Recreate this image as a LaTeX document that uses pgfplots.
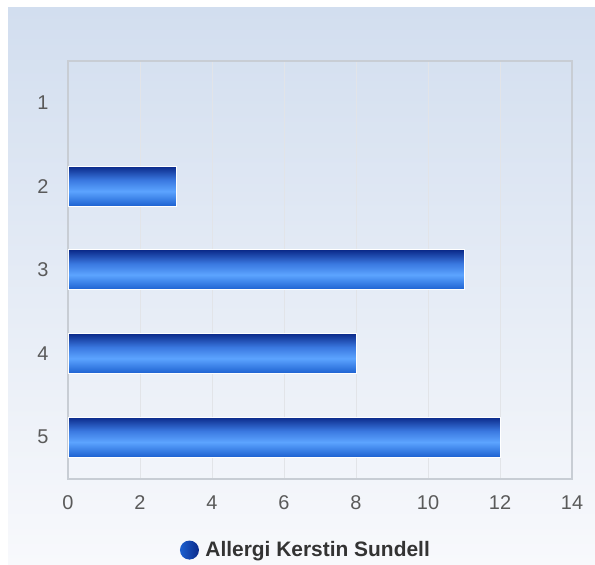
\documentclass[border=0pt]{standalone}
\usepackage{fontspec}
\setmainfont{Liberation Sans}
\usepackage{pgfplots}
\pgfplotsset{compat=1.18}
\definecolor{bgtop}{HTML}{D2DEEF}
\definecolor{bgbot}{HTML}{F8F9FC}
\definecolor{axisgray}{HTML}{C8CDD4}
\definecolor{gridgray}{HTML}{E2E4E8}
\definecolor{labgray}{HTML}{5A5A5A}
\definecolor{legtext}{HTML}{333333}
\definecolor{bartop}{HTML}{0B2A8A}
\definecolor{barmid}{HTML}{3A78E0}
\definecolor{barlight}{HTML}{5CA4FF}
\definecolor{barbot}{HTML}{1C60D0}
\pgfdeclareverticalshading{barshade}{100bp}{color(0bp)=(barbot); color(25bp)=(barbot); color(44bp)=(barlight); color(58bp)=(barmid); color(75bp)=(bartop); color(100bp)=(bartop)}
\pgfplotsset{barstyle/.style={shade, shading=barshade, draw=white, line width=1bp}}
\begin{document}
\begin{tikzpicture}
\fill[white] (0,0) rectangle (595bp,565bp);
\shade[top color=bgtop, bottom color=bgbot] (8bp,0) rectangle (595bp,557bp);
\begin{axis}[
    at={(68bp,86bp)}, anchor=south west,
    scale only axis, width=504bp, height=418bp,
    xbar, bar shift=0pt, bar width=40bp,
    xmin=0, xmax=14, xtick={0,2,...,14},
    % categories 1..5 from top to bottom: category k sits at y = 6-k
    ymin=0.5, ymax=5.5, ytick={1,...,5}, yticklabels={5,4,3,2,1},
    major tick length=0,
    axis line style={draw=axisgray, line width=1.2bp},
    xmajorgrids, grid style={gridgray, line width=0.8bp},
    tick label style={text=labgray, font=\fontsize{20}{20}\selectfont},
    xticklabel style={yshift=-13bp},
    yticklabel style={xshift=-16bp},
    /pgf/number format/assume math mode=true,
    legend style={draw=none, fill=none, at={(0.472,-0.17)}, anchor=center,
        font=\bfseries\fontsize{21}{21}\selectfont, text=legtext},
    legend image code/.code={%
        \shade[draw=none, left color=barbot, middle color=barlight!60!barbot, right color=bartop] (0,0) circle (9.5bp);
        \path[draw=none] (-9.5bp,0) -- (14bp,0);},
]
% one plot per bar so that each bar gets its own shading
\addplot[barstyle] coordinates {(3,4)};
\addlegendentry{Allergi Kerstin Sundell}
\addplot[barstyle, forget plot] coordinates {(11,3)};
\addplot[barstyle, forget plot] coordinates {(8,2)};
\addplot[barstyle, forget plot] coordinates {(12,1)};
\end{axis}
\end{tikzpicture}
\end{document}
